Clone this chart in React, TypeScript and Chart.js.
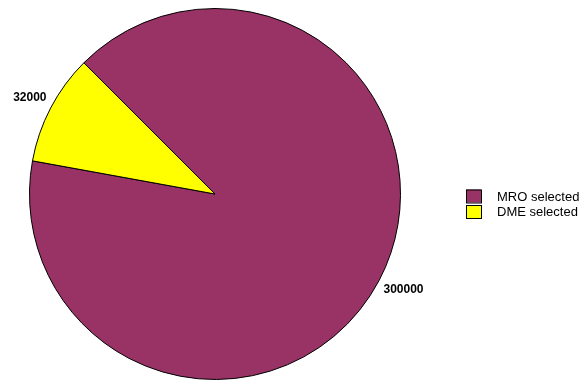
import React, { useEffect, useRef } from "react";
import { Chart, registerables } from "chart.js";

Chart.register(...registerables);

const categories = ["MRO selected", "DME selected"];
const values = [300000, 32000];
const valueLabels = ["300000", "32000"];
const colors = ["#993366", "#FFFF00"];

const labelPlugin = {
  id: "rPieExtras",
  afterDraw(chart: any) {
    const ctx = chart.ctx;
    const meta = chart.getDatasetMeta(0);
    ctx.save();
    // slice value labels
    ctx.font = "bold 12px 'Liberation Sans', Arial, sans-serif";
    ctx.fillStyle = "#000";
    ctx.textBaseline = "middle";
    meta.data.forEach((arc: any, i: number) => {
      const p = arc.getProps(["x", "y", "startAngle", "endAngle", "outerRadius"], true);
      const mid = (p.startAngle + p.endAngle) / 2 + (2 * Math.PI) / 180;
      const r = p.outerRadius * 1.045;
      const x = p.x + r * Math.cos(mid);
      const y = p.y + r * Math.sin(mid);
      ctx.textAlign = Math.cos(mid) < 0 ? "right" : "left";
      ctx.fillText(valueLabels[i], x, y);
    });
    // legend
    const boxX = 466;
    const boxW = 15;
    const boxH = 13;
    const rowH = 15.5;
    const top = 189.5;
    ctx.font = "13px 'Liberation Sans', Arial, sans-serif";
    ctx.textAlign = "left";
    categories.forEach((c, i) => {
      const y = top + i * rowH;
      ctx.fillStyle = colors[i];
      ctx.fillRect(boxX, y, boxW, boxH);
      ctx.strokeStyle = "#000";
      ctx.lineWidth = 1;
      ctx.strokeRect(boxX + 0.5, y + 0.5, boxW, boxH);
      ctx.fillStyle = "#000";
      ctx.fillText(c, 497, y + boxH / 2 + 1);
    });
    ctx.restore();
  },
};

export default function App() {
  const ref = useRef<HTMLCanvasElement>(null);
  useEffect(() => {
    if (!ref.current) return;
    const chart = new Chart(ref.current, {
      type: "pie",
      data: {
        labels: categories,
        datasets: [
          {
            data: values,
            backgroundColor: colors,
            borderColor: "#000",
            borderWidth: 1,
          },
        ],
      },
      options: {
        responsive: false,
        maintainAspectRatio: false,
        animation: false,
        rotation: 315,
        layout: { padding: { left: 29, right: 187, top: 8, bottom: 3 } },
        plugins: {
          legend: { display: false },
          tooltip: { enabled: false },
        },
      },
      plugins: [labelPlugin],
    });
    return () => chart.destroy();
  }, []);
  return (
    <div style={{ position: "absolute", left: 0, top: 0, width: 588, height: 383, background: "#fff" }}>
      <canvas ref={ref} width={588} height={383} style={{ display: "block" }} />
    </div>
  );
}
